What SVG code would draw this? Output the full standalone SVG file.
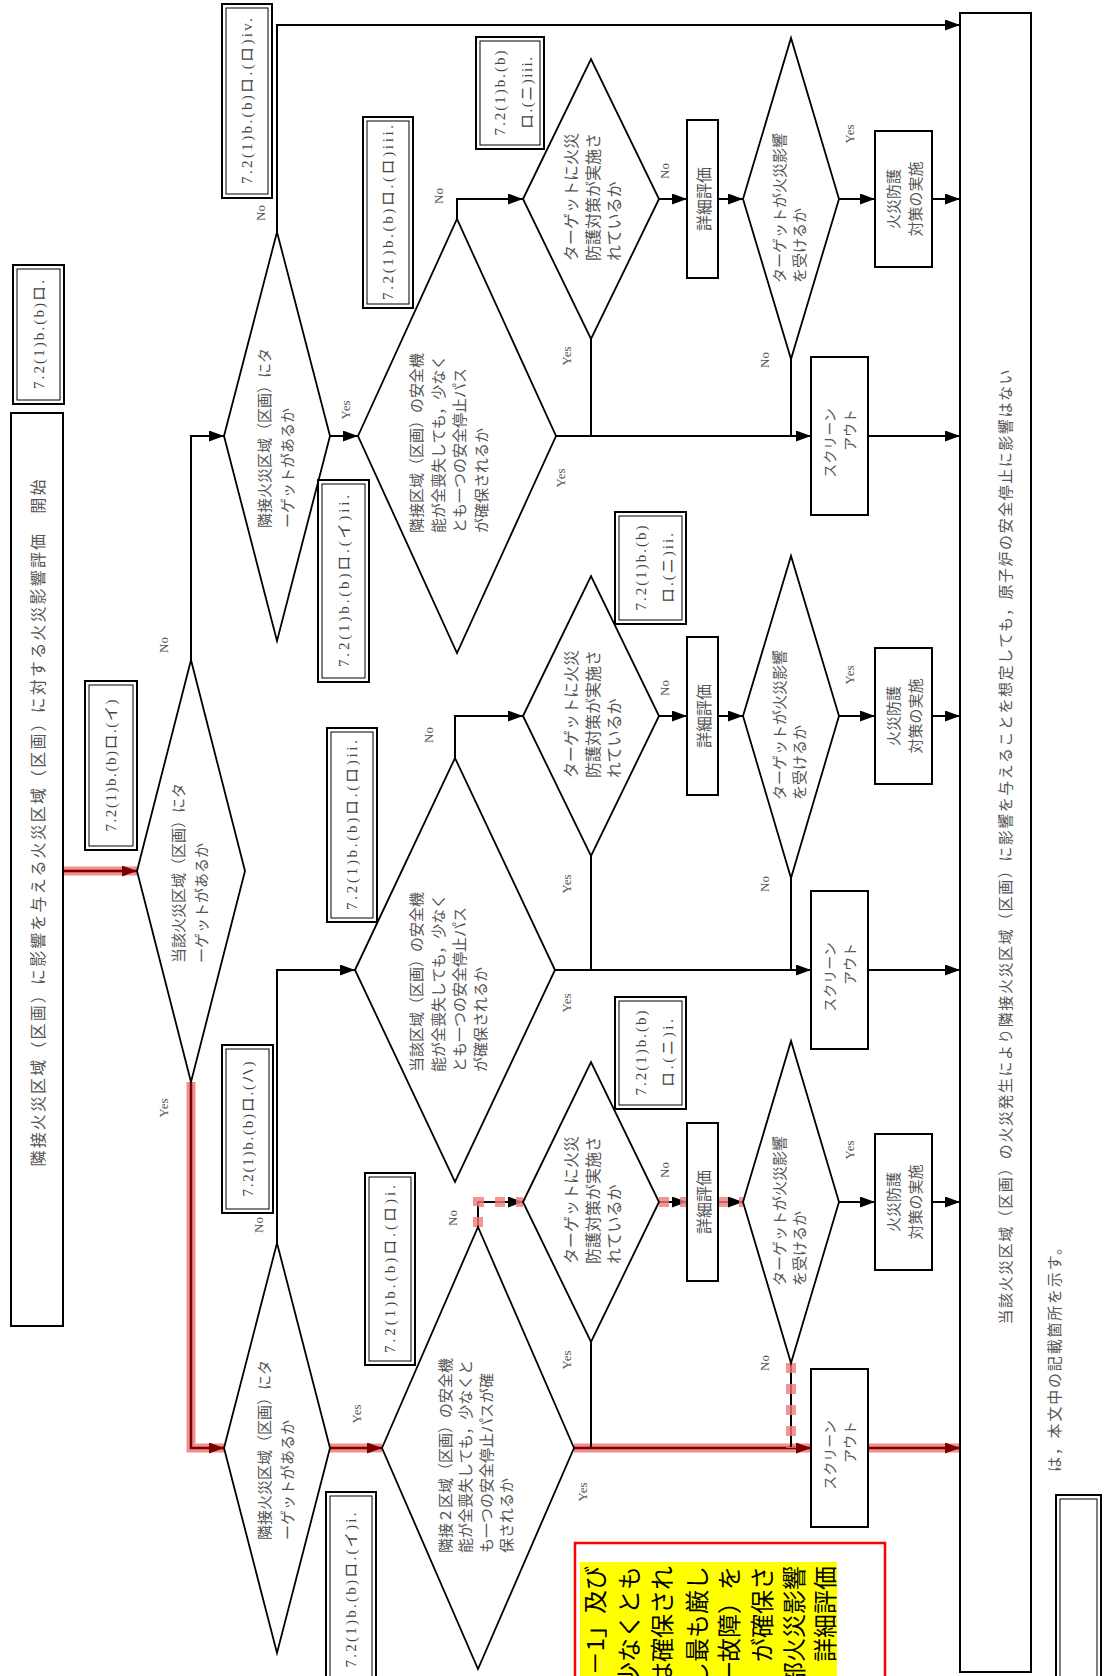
<svg xmlns="http://www.w3.org/2000/svg" width="1104" height="1676" viewBox="0 0 1104 1676">
<defs>
<marker id="arr" markerUnits="userSpaceOnUse" markerWidth="15" markerHeight="11" refX="15" refY="5.5" orient="auto"><path d="M0,0 L15,5.5 L0,11 z" fill="#000"/></marker>
<marker id="arrR" markerUnits="userSpaceOnUse" markerWidth="15" markerHeight="11" refX="15" refY="5.5" orient="auto"><path d="M0,0 L15,5.5 L0,11 z" fill="#7a0000"/></marker>
<style>
.ln{fill:none;stroke:#000;stroke-width:2}
.ar{marker-end:url(#arr)}
.dia{fill:#fff;stroke:#000;stroke-width:1.8}
.box{fill:#fff;stroke:#000;stroke-width:2}
.lo{fill:#fff;stroke:#000;stroke-width:2}
.li{fill:none;stroke:#000;stroke-width:1}
.jp{font-family:"Noto Sans CJK JP",sans-serif;fill:#555;dominant-baseline:central}
.yn{font-family:"Liberation Serif",serif;font-size:13px;fill:#555;dominant-baseline:central;text-anchor:middle}
.lbl{font-family:"Liberation Serif","Noto Sans CJK JP",serif;font-size:15px;fill:#444;text-anchor:middle;dominant-baseline:central}
.hl{fill:none;stroke:#f07a7a;stroke-width:9;opacity:.85}
.hd{fill:none;stroke:#f07a7a;stroke-width:10;stroke-dasharray:10 11;opacity:.8}
.rl{fill:none;stroke:#7a0000;stroke-width:2.5;marker-end:url(#arrR)}
.yt{font-family:"Noto Sans CJK JP",sans-serif;font-size:24px;fill:#000;dominant-baseline:central;text-anchor:end}
</style>
</defs>
<rect width="1104" height="1676" fill="#fff"/>

<g id="highlights">
<path class="hl" d="M64,871 H137"/>
<path class="hl" d="M191,1082 V1448 H224"/>
<path class="hl" d="M330,1448 H382"/>
<path class="hl" d="M574,1448 H811"/>
<path class="hl" d="M868,1448 H960"/>
</g>

<g id="connectors">
<path class="ln ar" d="M277,232 V25 H960"/>
<path class="ln ar" d="M330,436 H358"/>
<path class="ln ar" d="M457,219 V199 H523"/>
<path class="ln ar" d="M659,199 H687"/>
<path class="ln ar" d="M718,199 H743"/>
<path class="ln ar" d="M839,199 H875"/>
<path class="ln ar" d="M932,199 H960"/>
<path class="ln" d="M791,359 V436"/>
<path class="ln" d="M591,339 V436"/>
<path class="ln ar" d="M556,436 H811"/>
<path class="ln ar" d="M868,436 H960"/>
<path class="ln ar" d="M277,1243 V970 H355"/>
<path class="ln ar" d="M455,758 V716 H523"/>
<path class="ln ar" d="M659,716 H687"/>
<path class="ln ar" d="M718,716 H743"/>
<path class="ln ar" d="M839,716 H875"/>
<path class="ln ar" d="M932,716 H960"/>
<path class="ln" d="M791,878 V970"/>
<path class="ln" d="M591,856 V970"/>
<path class="ln ar" d="M555,970 H811"/>
<path class="ln ar" d="M868,970 H960"/>
<path class="ln ar" d="M478,1227 V1202 H523"/>
<path class="ln ar" d="M659,1202 H687"/>
<path class="ln ar" d="M718,1202 H743"/>
<path class="ln ar" d="M839,1202 H875"/>
<path class="ln ar" d="M932,1202 H960"/>
<path class="ln" d="M791,1363 V1448"/>
<path class="ln" d="M591,1342 V1448"/>
<path class="ln ar" d="M191,660 V436 H224"/>
<path class="rl" d="M64,871 H137"/>
<path class="rl" d="M191,1082 V1448 H224"/>
<path class="rl" d="M330,1448 H382"/>
<path class="rl" d="M574,1448 H811"/>
<path class="rl" d="M868,1448 H960"/>
<path class="hd" d="M478,1227 V1202 H523"/>
<path class="hd" d="M659,1202 H687 M718,1202 H743"/>
<path class="hd" d="M791,1363 V1448"/>
</g>

<g id="start">
<rect class="box" x="11" y="413" width="52" height="913"/>
<text class="jp" font-size="16" text-anchor="middle" textLength="687" lengthAdjust="spacing" transform="translate(37 823) rotate(-90)">隣接火災区域（区画）に影響を与える火災区域（区画）に対する火災影響評価　開始</text>
</g>

<g id="end">
<rect class="box" x="960" y="13" width="71" height="1659"/>
<text class="jp" font-size="15" text-anchor="middle" textLength="955" lengthAdjust="spacing" transform="translate(1004 847) rotate(-90)">当該火災区域（区画）の火災発生により隣接火災区域（区画）に影響を与えることを想定しても，原子炉の安全停止に影響はない</text>
</g>

<g id="d1">
<polygon class="dia" points="137,871 191,660 245,871 191,1082"/>
<text class="jp" font-size="15" transform="translate(177 963) rotate(-90)">当該火災区域（区画）にタ</text>
<text class="jp" font-size="15" transform="translate(200 963) rotate(-90)">ーゲットがあるか</text>
</g>
<g id="d3">
<polygon class="dia" points="224,436 277,232 330,436 277,641"/>
<text class="jp" font-size="15" transform="translate(263 528) rotate(-90)">隣接火災区域（区画）にタ</text>
<text class="jp" font-size="15" transform="translate(286 528) rotate(-90)">ーゲットがあるか</text>
</g>
<g id="d2">
<polygon class="dia" points="224,1448 277,1243 330,1448 277,1653"/>
<text class="jp" font-size="15" transform="translate(263 1540) rotate(-90)">隣接火災区域（区画）にタ</text>
<text class="jp" font-size="15" transform="translate(286 1540) rotate(-90)">ーゲットがあるか</text>
</g>
<g id="d10">
<polygon class="dia" points="358,436 457,219 556,436 457,653"/>
<text class="jp" font-size="15" transform="translate(415 533) rotate(-90)">隣接区域（区画）の安全機</text>
<text class="jp" font-size="15" transform="translate(437 533) rotate(-90)">能が全喪失しても，少なく</text>
<text class="jp" font-size="15" transform="translate(458 533) rotate(-90)">とも一つの安全停止パス</text>
<text class="jp" font-size="15" transform="translate(480 533) rotate(-90)">が確保されるか</text>
</g>
<g id="d4">
<polygon class="dia" points="355,970 455,758 555,970 455,1182"/>
<text class="jp" font-size="15" transform="translate(415 1072) rotate(-90)">当該区域（区画）の安全機</text>
<text class="jp" font-size="15" transform="translate(437 1072) rotate(-90)">能が全喪失しても，少なく</text>
<text class="jp" font-size="15" transform="translate(458 1072) rotate(-90)">とも一つの安全停止パス</text>
<text class="jp" font-size="15" transform="translate(479 1072) rotate(-90)">が確保されるか</text>
</g>
<g id="d5">
<polygon class="dia" points="382,1448 478,1227 574,1448 478,1669"/>
<text class="jp" font-size="15" transform="translate(444 1553) rotate(-90)">隣接２区域（区画）の安全機</text>
<text class="jp" font-size="15" transform="translate(464 1553) rotate(-90)">能が全喪失しても，少なくと</text>
<text class="jp" font-size="15" transform="translate(485 1553) rotate(-90)">も一つの安全停止パスが確</text>
<text class="jp" font-size="15" transform="translate(505 1553) rotate(-90)">保されるか</text>
</g>

<g id="d11">
<polygon class="dia" points="523,199 591,59 659,199 591,339"/>
<text class="jp" font-size="16" transform="translate(570 261) rotate(-90)">ターゲットに火災</text>
<text class="jp" font-size="16" transform="translate(592 261) rotate(-90)">防護対策が実施さ</text>
<text class="jp" font-size="16" transform="translate(613 261) rotate(-90)">れているか</text>
</g>
<g id="d7">
<polygon class="dia" points="523,716 591,576 659,716 591,856"/>
<text class="jp" font-size="16" transform="translate(570 778) rotate(-90)">ターゲットに火災</text>
<text class="jp" font-size="16" transform="translate(592 778) rotate(-90)">防護対策が実施さ</text>
<text class="jp" font-size="16" transform="translate(613 778) rotate(-90)">れているか</text>
</g>
<g id="d6">
<polygon class="dia" points="523,1202 591,1062 659,1202 591,1342"/>
<text class="jp" font-size="16" transform="translate(570 1264) rotate(-90)">ターゲットに火災</text>
<text class="jp" font-size="16" transform="translate(592 1264) rotate(-90)">防護対策が実施さ</text>
<text class="jp" font-size="16" transform="translate(613 1264) rotate(-90)">れているか</text>
</g>

<g id="e3"><rect class="box" x="687" y="120" width="31" height="158"/><text class="jp" font-size="16" text-anchor="middle" transform="translate(702.5 199) rotate(-90)">詳細評価</text></g>
<g id="e2"><rect class="box" x="687" y="637" width="31" height="158"/><text class="jp" font-size="16" text-anchor="middle" transform="translate(702.5 716) rotate(-90)">詳細評価</text></g>
<g id="e1"><rect class="box" x="687" y="1123" width="31" height="158"/><text class="jp" font-size="16" text-anchor="middle" transform="translate(702.5 1202) rotate(-90)">詳細評価</text></g>

<g id="d12">
<polygon class="dia" points="743,199 791,38 839,199 791,359"/>
<text class="jp" font-size="15" transform="translate(778 283) rotate(-90)">ターゲットが火災影響</text>
<text class="jp" font-size="15" transform="translate(798 283) rotate(-90)">を受けるか</text>
</g>
<g id="d9">
<polygon class="dia" points="743,716 791,556 839,716 791,878"/>
<text class="jp" font-size="15" transform="translate(778 800) rotate(-90)">ターゲットが火災影響</text>
<text class="jp" font-size="15" transform="translate(798 800) rotate(-90)">を受けるか</text>
</g>
<g id="d8">
<polygon class="dia" points="743,1202 791,1041 839,1202 791,1363"/>
<text class="jp" font-size="15" transform="translate(778 1286) rotate(-90)">ターゲットが火災影響</text>
<text class="jp" font-size="15" transform="translate(798 1286) rotate(-90)">を受けるか</text>
</g>

<g id="p3"><rect class="box" x="875" y="131" width="57" height="136"/><text class="jp" font-size="15" text-anchor="middle" transform="translate(892 199) rotate(-90)">火災防護</text><text class="jp" font-size="15" text-anchor="middle" transform="translate(914 199) rotate(-90)">対策の実施</text></g>
<g id="p2"><rect class="box" x="875" y="648" width="57" height="136"/><text class="jp" font-size="15" text-anchor="middle" transform="translate(892 716) rotate(-90)">火災防護</text><text class="jp" font-size="15" text-anchor="middle" transform="translate(914 716) rotate(-90)">対策の実施</text></g>
<g id="p1"><rect class="box" x="875" y="1134" width="57" height="136"/><text class="jp" font-size="15" text-anchor="middle" transform="translate(892 1202) rotate(-90)">火災防護</text><text class="jp" font-size="15" text-anchor="middle" transform="translate(914 1202) rotate(-90)">対策の実施</text></g>

<g id="s3"><rect class="box" x="811" y="357" width="57" height="158"/><text class="jp" font-size="14" text-anchor="middle" transform="translate(829 443) rotate(-90)">スクリーン</text><text class="jp" font-size="14" text-anchor="middle" transform="translate(849 430) rotate(-90)">アウト</text></g>
<g id="s2"><rect class="box" x="811" y="891" width="57" height="158"/><text class="jp" font-size="14" text-anchor="middle" transform="translate(829 977) rotate(-90)">スクリーン</text><text class="jp" font-size="14" text-anchor="middle" transform="translate(849 964) rotate(-90)">アウト</text></g>
<g id="s1"><rect class="box" x="811" y="1369" width="57" height="158"/><text class="jp" font-size="14" text-anchor="middle" transform="translate(829 1455) rotate(-90)">スクリーン</text><text class="jp" font-size="14" text-anchor="middle" transform="translate(849 1442) rotate(-90)">アウト</text></g>

<g id="labels">
<g id="L1"><rect class="lo" x="13" y="265" width="51" height="139"/><rect class="li" x="17" y="269" width="43" height="131"/><text class="lbl" textLength="109" transform="translate(38.5 334.5) rotate(-90)">7.2(1)b.(b)ロ.</text></g>
<g id="L2"><rect class="lo" x="85" y="681" width="52" height="169"/><rect class="li" x="89" y="685" width="44" height="161"/><text class="lbl" textLength="132" transform="translate(111 765.5) rotate(-90)">7.2(1)b.(b)ロ.(イ)</text></g>
<g id="L3"><rect class="lo" x="222" y="1045" width="51" height="168"/><rect class="li" x="226" y="1049" width="43" height="160"/><text class="lbl" textLength="135" transform="translate(247.5 1129) rotate(-90)">7.2(1)b.(b)ロ.(ハ)</text></g>
<g id="L4"><rect class="lo" x="326" y="1492" width="50" height="192"/><rect class="li" x="330" y="1496" width="42" height="184"/><text class="lbl" textLength="155" transform="translate(351 1590) rotate(-90)">7.2(1)b.(b)ロ.(イ)i.</text></g>
<g id="L5"><rect class="lo" x="365" y="1173" width="50" height="192"/><rect class="li" x="369" y="1177" width="42" height="184"/><text class="lbl" textLength="168" transform="translate(390 1269) rotate(-90)">7.2(1)b.(b)ロ.(ロ)i.</text></g>
<g id="L6"><rect class="lo" x="615" y="997" width="71" height="112"/><rect class="li" x="619" y="1001" width="63" height="104"/><text class="lbl" textLength="85" transform="translate(641 1053) rotate(-90)">7.2(1)b.(b)</text><text class="lbl" textLength="68" transform="translate(668 1053) rotate(-90)">ロ.(ニ)i.</text></g>
<g id="L7"><rect class="lo" x="327" y="728" width="50" height="194"/><rect class="li" x="331" y="732" width="42" height="186"/><text class="lbl" textLength="170" transform="translate(352 825) rotate(-90)">7.2(1)b.(b)ロ.(ロ)ii.</text></g>
<g id="L8"><rect class="lo" x="615" y="512" width="71" height="112"/><rect class="li" x="619" y="516" width="63" height="104"/><text class="lbl" textLength="85" transform="translate(641 568) rotate(-90)">7.2(1)b.(b)</text><text class="lbl" textLength="70" transform="translate(668 568) rotate(-90)">ロ.(ニ)ii.</text></g>
<g id="L9"><rect class="lo" x="363" y="117" width="50" height="191"/><rect class="li" x="367" y="121" width="42" height="183"/><text class="lbl" textLength="175" transform="translate(388 212.5) rotate(-90)">7.2(1)b.(b)ロ.(ロ)iii.</text></g>
<g id="L10"><rect class="lo" x="476" y="37" width="68" height="112"/><rect class="li" x="480" y="41" width="60" height="104"/><text class="lbl" textLength="85" transform="translate(500 93) rotate(-90)">7.2(1)b.(b)</text><text class="lbl" textLength="72" transform="translate(527 93) rotate(-90)">ロ.(ニ)iii.</text></g>
<g id="L11"><rect class="lo" x="318" y="480" width="51" height="202"/><rect class="li" x="322" y="484" width="43" height="194"/><text class="lbl" textLength="172" transform="translate(343.5 581) rotate(-90)">7.2(1)b.(b)ロ.(イ)ii.</text></g>
<g id="L12"><rect class="lo" x="222" y="4" width="50" height="194"/><rect class="li" x="226" y="8" width="42" height="186"/><text class="lbl" textLength="166" transform="translate(247 101) rotate(-90)">7.2(1)b.(b)ロ.(ロ)iv.</text></g>
</g>

<g id="yesno">
<text class="yn" transform="translate(163 645) rotate(-90)">No</text>
<text class="yn" transform="translate(163 1108) rotate(-90)">Yes</text>
<text class="yn" transform="translate(258 1225) rotate(-90)">No</text>
<text class="yn" transform="translate(356 1414) rotate(-90)">Yes</text>
<text class="yn" transform="translate(260 213) rotate(-90)">No</text>
<text class="yn" transform="translate(345 410) rotate(-90)">Yes</text>
<text class="yn" transform="translate(438 196) rotate(-90)">No</text>
<text class="yn" transform="translate(566 356) rotate(-90)">Yes</text>
<text class="yn" transform="translate(560 478) rotate(-90)">Yes</text>
<text class="yn" transform="translate(664 171) rotate(-90)">No</text>
<text class="yn" transform="translate(849 134) rotate(-90)">Yes</text>
<text class="yn" transform="translate(764 360) rotate(-90)">No</text>
<text class="yn" transform="translate(428 735) rotate(-90)">No</text>
<text class="yn" transform="translate(566 884) rotate(-90)">Yes</text>
<text class="yn" transform="translate(566 1003) rotate(-90)">Yes</text>
<text class="yn" transform="translate(664 688) rotate(-90)">No</text>
<text class="yn" transform="translate(849 675) rotate(-90)">Yes</text>
<text class="yn" transform="translate(764 884) rotate(-90)">No</text>
<text class="yn" transform="translate(452 1218) rotate(-90)">No</text>
<text class="yn" transform="translate(566 1360) rotate(-90)">Yes</text>
<text class="yn" transform="translate(582 1492) rotate(-90)">Yes</text>
<text class="yn" transform="translate(664 1170) rotate(-90)">No</text>
<text class="yn" transform="translate(849 1150) rotate(-90)">Yes</text>
<text class="yn" transform="translate(764 1363) rotate(-90)">No</text>
</g>

<g id="note">
<rect x="575" y="1543" width="310" height="140" fill="#fff" stroke="#f00" stroke-width="2.5"/>
<rect x="580" y="1562" width="257" height="120" fill="#ff0"/>
<text class="yt" transform="translate(593 1566) rotate(-90)">S－1」及び</text>
<text class="yt" transform="translate(627 1566) rotate(-90)">少なくとも</text>
<text class="yt" transform="translate(660 1566) rotate(-90)">は確保され</text>
<text class="yt" transform="translate(695 1566) rotate(-90)">し最も厳し</text>
<text class="yt" transform="translate(727 1566) rotate(-90)">一故障）を</text>
<text class="yt" transform="translate(760 1566) rotate(-90)">が確保さ</text>
<text class="yt" transform="translate(792 1566) rotate(-90)">部火災影響</text>
<text class="yt" transform="translate(823 1566) rotate(-90)">詳細評価</text>
</g>

<g id="legend">
<rect class="lo" x="1056" y="1495" width="45" height="190"/><rect class="li" x="1060" y="1499" width="37" height="182"/>
<text class="jp" font-size="15" textLength="232" transform="translate(1053 1472) rotate(-90)">は，本文中の記載箇所を示す。</text>
</g>
</svg>
